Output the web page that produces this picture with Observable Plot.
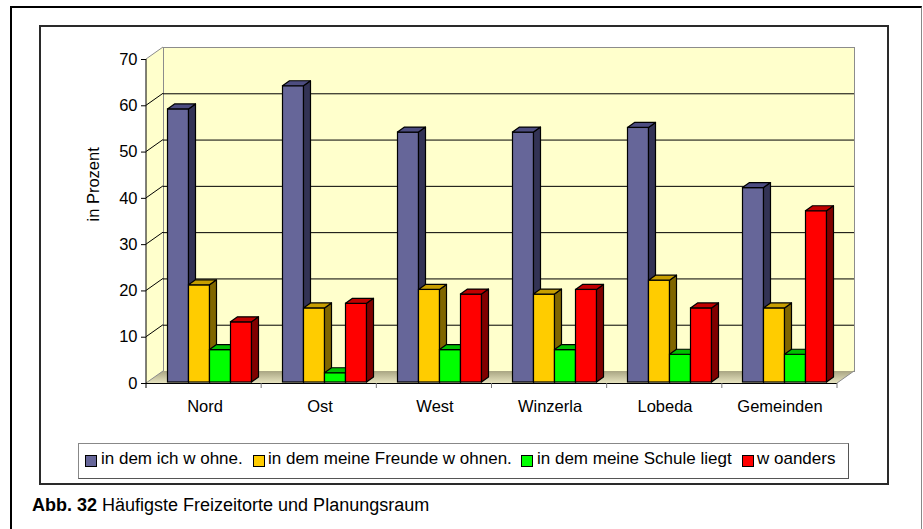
<!DOCTYPE html>
<html><head><meta charset="utf-8">
<script src="https://cdn.jsdelivr.net/npm/d3@7"></script>
<script src="https://cdn.jsdelivr.net/npm/@observablehq/plot@0.6"></script>
<style>
body{margin:0;background:#fff;font-family:"Liberation Sans",Arial,sans-serif;color:#000;}
#wrap{position:relative;width:923px;height:529px;overflow:hidden;background:#fff;}
#chart{position:absolute;left:0;top:0;}
#outer{position:absolute;left:10px;top:6px;width:909px;height:540px;border-left:2px solid #000;border-top:2px solid #000;border-right:1px solid #888;}
#inner{position:absolute;left:39px;top:25px;width:846px;height:456px;border:2px solid #2a2a2a;}
#legend{position:absolute;left:78px;top:443px;width:769px;height:34px;border:1px solid #555;border-top-color:#888;border-left-color:#888;}
.sw{position:absolute;width:10px;height:10px;border:1px solid #000;top:455px;}
.lt{position:absolute;top:449px;font-size:17px;line-height:20px;white-space:nowrap;}
#caption{position:absolute;left:32px;top:495px;font-size:18px;line-height:20px;white-space:nowrap;}
</style></head>
<body><div id="wrap"><div id="chart"></div><div id="outer"></div><div id="inner"></div><div id="legend"></div><div id="caption"><b>Abb. 32</b> Häufigste Freizeitorte und Planungsraum</div></div>
<script>
const categories = ["Nord","Ost","West","Winzerla","Lobeda","Gemeinden"];
const seriesNames = ["in dem ich w ohne.","in dem meine Freunde w ohnen.","in dem meine Schule liegt","w oanders"];
const wohne    = [59, 64, 54, 54, 55, 42];
const freunde  = [21, 16, 20, 19, 22, 16];
const schule   = [ 7,  2,  7,  7,  6,  6];
const woanders = [13, 17, 19, 20, 16, 37];
const yTicks = [0, 10, 20, 30, 40, 50, 60, 70];
const yLabel = "in Prozent";

const colors     = ["#666699", "#FFCC00", "#00FF00", "#FF0000"];
const topColors  = ["#4D4D80", "#C79E00", "#00C000", "#C00000"];
const sideColors = ["#333355", "#806600", "#008000", "#800000"];

const seriesValues = [wohne, freunde, schule, woanders];
const W = 923, H = 440, mL = 146, mR = 86, mT = 59, mB = 57;
const DX = 17, DY = 12;     // wall depth offset
const BX = 7, BY = 5;       // bar depth offset
const BW = 21;              // bar width
const step = (W - mL - mR) / categories.length;
const padIn = 1 - BW / step;

const chart = Plot.plot({
  width: W, height: H, marginLeft: mL, marginRight: mR, marginTop: mT, marginBottom: mB,
  style: {background: "transparent", fontFamily: "'Liberation Sans', Arial, sans-serif", fontSize: "16.5px", color: "#000", overflow: "visible"},
  x: {domain: categories, paddingInner: padIn, paddingOuter: padIn / 2, label: null, tickSize: 0, tickPadding: 17},
  y: {domain: [0, 70], ticks: yTicks, tickSize: 5, tickPadding: 4, label: null},
  marks: [
    Plot.frame({fill: "#FFFFCC", stroke: "#8C8C8C", dx: DX, dy: -DY}),
    Plot.ruleY(yTicks.filter(v => v > 0 && v < 70), {dx: DX, dy: -DY, stroke: "#000", strokeWidth: 1}),
    ...seriesValues.map((vals, s) => Plot.barY(
      categories.map((c, i) => ({category: c, value: vals[i]})),
      {x: "category", y: "value", fill: colors[s], stroke: "#000", strokeWidth: 1.2,
       dx: 5 + (s - 1.5) * BW, dy: -1})),
    Plot.ruleY([0], {stroke: "#000", strokeWidth: 1}),
    Plot.text([yLabel], {text: d => d, frameAnchor: "left", dx: -53, rotate: -90, fontSize: 16.5})
  ]
});
document.getElementById("chart").appendChild(chart);

// 3D decoration using the plot's own scales
const svg = d3.select(chart);
const ys = chart.scale("y");
const Y = v => ys && ys.apply ? ys.apply(v) : mT + (1 - v / 70) * (H - mT - mB);
const L = mL, R = W - mR, T = Y(70), B = Y(0);
const barGroups = svg.selectAll('g[aria-label="bar"]').nodes();
const deco = d3.create("svg:g");
const defs = svg.append("defs");
const grad = defs.append("linearGradient").attr("id", "floorGrad").attr("x1", 0).attr("y1", 1).attr("x2", 0).attr("y2", 0);
grad.append("stop").attr("offset", "0%").attr("stop-color", "#E6E3BF");
grad.append("stop").attr("offset", "100%").attr("stop-color", "#A9A583");
const pts = a => a.map(p => p.join(",")).join(" ");
// side wall
deco.append("polygon").attr("points", pts([[L, B], [L, T], [L + DX, T - DY], [L + DX, B - DY]])).attr("fill", "#FFFFCC");
deco.append("line").attr("x1", L).attr("y1", T).attr("x2", L + DX).attr("y2", T - DY).attr("stroke", "#8C8C8C");
yTicks.filter(v => v > 0 && v < 70).forEach(v => {
  deco.append("line").attr("x1", L).attr("y1", Y(v)).attr("x2", L + DX).attr("y2", Y(v) - DY).attr("stroke", "#000");
});
// floor
deco.append("polygon").attr("points", pts([[L, B], [R, B], [R + DX, B - DY], [L + DX, B - DY]])).attr("fill", "url(#floorGrad)");
deco.append("line").attr("x1", R).attr("y1", B).attr("x2", R + DX).attr("y2", B - DY).attr("stroke", "#8C8C8C");
deco.append("line").attr("x1", L).attr("y1", B).attr("x2", L + DX).attr("y2", B - DY).attr("stroke", "#8C8C8C");
chart.insertBefore(deco.node(), barGroups[0]);

barGroups.forEach((g, s) => {
  d3.select(g).selectAll("rect").nodes().forEach(r => {
    const x = +r.getAttribute("x"), y = +r.getAttribute("y"), w = +r.getAttribute("width"), h = +r.getAttribute("height");
    d3.select(g).append("polygon").attr("points", pts([[x + w, y], [x + w + BX, y - BY], [x + w + BX, y + h - BY], [x + w, y + h]]))
      .attr("fill", sideColors[s]).attr("stroke", "#000").attr("stroke-width", 1.2).attr("stroke-linejoin", "round");
    d3.select(g).append("polygon").attr("points", pts([[x, y], [x + w, y], [x + w + BX, y - BY], [x + BX, y - BY]]))
      .attr("fill", topColors[s]).attr("stroke", "#000").attr("stroke-width", 1.2).attr("stroke-linejoin", "round");
  });
});
// axis line and category boundary ticks
svg.append("line").attr("x1", L).attr("x2", L).attr("y1", T).attr("y2", B).attr("stroke", "#000");
for (let i = 0; i <= categories.length; i++) {
  const x = L + i * step;
  svg.append("line").attr("x1", x).attr("x2", x).attr("y1", B).attr("y2", B + 5).attr("stroke", i === 0 ? "#000" : "#777");
}

// legend
const wrap = document.getElementById("wrap");
const swX = [85, 253, 521, 742];
const txX = [101, 268, 537, 757];
seriesNames.forEach((name, s) => {
  const sw = document.createElement("div");
  sw.className = "sw"; sw.style.left = swX[s] + "px"; sw.style.background = colors[s];
  wrap.appendChild(sw);
  const t = document.createElement("div");
  t.className = "lt"; t.style.left = txX[s] + "px"; t.textContent = name;
  wrap.appendChild(t);
});
</script></body></html>
